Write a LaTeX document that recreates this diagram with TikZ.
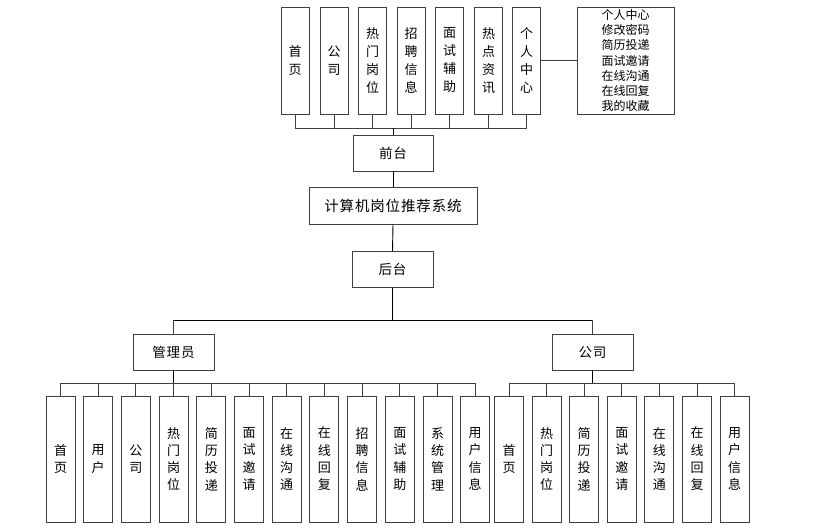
\documentclass[tikz,border=0pt]{standalone}
\usepackage{fontspec}
\setmainfont{Noto Sans CJK SC}
\newfontfamily\spacedcjk[LetterSpace=6]{Noto Sans CJK SC}
\begin{document}
\begin{tikzpicture}[x=1pt,y=-1pt,
  box/.style={draw=black!75,line width=0.9pt,inner sep=0pt,align=center,font=\fontsize{13}{18}\selectfont},
  topbox/.style={box,minimum width=28pt,minimum height=107pt},
  botbox/.style={box,minimum width=29pt,minimum height=126pt,font=\fontsize{13}{17.3}\selectfont},
  hbox/.style={box,minimum width=81pt,minimum height=36pt,font=\spacedcjk\fontsize{13.5}{16}\selectfont},
  ln/.style={draw=black!75,line width=0.9pt},
  trunk/.style={draw=black,line width=0.9pt}]
\useasboundingbox (0,0) rectangle (832,529);
% top level
\node[topbox] (t1) at (295,60.5) {首\\页};
\node[topbox] (t2) at (334,60.5) {公\\司};
\node[topbox] (t3) at (372.5,60.5) {热\\门\\岗\\位};
\node[topbox] (t4) at (411,60.5) {招\\聘\\信\\息};
\node[topbox] (t5) at (449.5,60.5) {面\\试\\辅\\助};
\node[topbox] (t6) at (488.5,60.5) {热\\点\\资\\讯};
\node[topbox] (t7) at (526.5,60.5) {个\\人\\中\\心};
\node[box,minimum width=97pt,minimum height=107pt,font=\fontsize{12}{15.3}\selectfont] (tr) at (625.5,60.5) {个人中心\\修改密码\\简历投递\\面试邀请\\在线沟通\\在线回复\\我的收藏};
\node[hbox,minimum width=80pt] (ft) at (393,153) {前台};
\node[box,minimum width=168pt,minimum height=37pt,font=\spacedcjk\fontsize{14.5}{16}\selectfont] (sys) at (393,205.5) {计算机岗位推荐系统};
\node[hbox] (bt) at (392.5,269.5) {后台};
\node[hbox] (adm) at (173.5,352) {管理员};
\node[hbox] (com) at (592.5,352) {公司};
% admin children
\foreach \i/\t in {1/{首\\页},2/{用\\户},3/{公\\司},4/{热\\门\\岗\\位},5/{简\\历\\投\\递},6/{面\\试\\邀\\请},7/{在\\线\\沟\\通},8/{在\\线\\回\\复},9/{招\\聘\\信\\息},10/{面\\试\\辅\\助},11/{系\\统\\管\\理},12/{用\\户\\信\\息}}
  \node[botbox] (a\i) at ({60.5+(\i-1)*37.7},459) {\t};
% company children
\foreach \i/\t in {1/{首\\页},2/{热\\门\\岗\\位},3/{简\\历\\投\\递},4/{面\\试\\邀\\请},5/{在\\线\\沟\\通},6/{在\\线\\回\\复},7/{用\\户\\信\\息}}
  \node[botbox] (c\i) at ({509+(\i-1)*37.6},459) {\t};
% top connectors
\coordinate (tb) at (393,128);
\foreach \i in {1,...,7} \draw[ln] (t\i.south) -- (t\i.south |- tb);
\draw[ln] (t1.south |- tb) -- (t7.south |- tb);
\draw[trunk] (tb) -- (ft.north);
\draw[ln] (t7.east) -- (tr.west);
\draw[trunk] (ft.south) -- (sys.north);
\draw[trunk] (sys.south) -- (bt.north);
\coordinate (mb) at (392.5,320);
\draw[trunk] (bt.south) -- (mb);
\draw[trunk] (adm.north |- mb) -- (com.north |- mb);
\draw[ln] (adm.north |- mb) -- (adm.north);
\draw[ln] (com.north |- mb) -- (com.north);
% admin bus
\coordinate (ab) at (173.5,383);
\draw[trunk] (adm.south) -- (ab);
\draw[ln] (a1.north |- ab) -- (a12.north |- ab);
\foreach \i in {1,...,12} \draw[ln] (a\i.north |- ab) -- (a\i.north);
% company bus
\coordinate (cb) at (592.5,383);
\draw[trunk] (com.south) -- (cb);
\draw[ln] (c1.north |- cb) -- (c7.north |- cb);
\foreach \i in {1,...,7} \draw[ln] (c\i.north |- cb) -- (c\i.north);
\end{tikzpicture}
\end{document}
